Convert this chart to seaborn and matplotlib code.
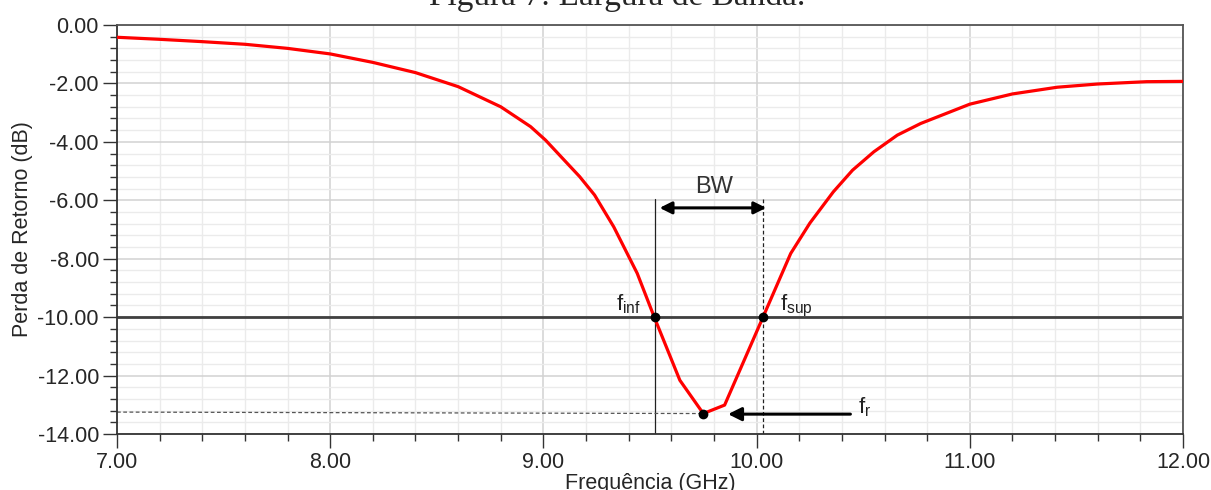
import numpy as np
import pandas as pd
import seaborn as sns
import matplotlib.pyplot as plt
from matplotlib.ticker import MultipleLocator, FormatStrFormatter

# return loss curve (GHz, dB)
freq = [7.00, 7.20, 7.40, 7.60, 7.80, 8.00, 8.20, 8.40, 8.60, 8.80, 8.94, 9.01,
        9.12, 9.17, 9.24, 9.33, 9.44, 9.52, 9.64, 9.75, 9.85, 10.03, 10.16,
        10.25, 10.36, 10.45, 10.55, 10.66, 10.77, 11.00, 11.20, 11.41, 11.60, 11.83, 12.00]
perda = [-0.42, -0.49, -0.57, -0.66, -0.80, -0.99, -1.28, -1.63, -2.11, -2.80,
         -3.48, -3.94, -4.80, -5.19, -5.82, -6.91, -8.50, -10.00, -12.16, -13.30,
         -13.01, -10.00, -7.82, -6.78, -5.71, -4.97, -4.34, -3.77, -3.37, -2.71, -2.36,
         -2.13, -2.02, -1.94, -1.93]

# markers
f_inf, f_sup = 9.523, 10.03
f_r, perda_r = 9.75, -13.30
nivel = -10.0

df = pd.DataFrame({"freq": freq, "perda": perda})

sns.set_style("white")
plt.rcParams['font.family'] = ['Liberation Sans', 'DejaVu Sans']
plt.rcParams['mathtext.default'] = 'regular'

fig = plt.figure(figsize=(12.11, 4.90), dpi=100)
ax = fig.add_axes([117/1211, 1 - 434/490, (1183 - 117)/1211, (434 - 25)/490])

# grid
ax.xaxis.set_major_locator(MultipleLocator(1))
ax.xaxis.set_minor_locator(MultipleLocator(0.2))
ax.yaxis.set_major_locator(MultipleLocator(2))
ax.yaxis.set_minor_locator(MultipleLocator(0.4))
ax.grid(which='major', color='#d2d2d2', lw=1.1, zorder=0)
ax.grid(which='minor', color='#ebebeb', lw=1.0, zorder=0)
ax.set_axisbelow(True)

# -10 dB line
ax.axhline(nivel, color='#404040', lw=2, zorder=2)

sns.lineplot(data=df, x="freq", y="perda", color='red', lw=2.3, ax=ax, zorder=3)

# bandwidth guides
ax.plot([f_inf, f_inf], [-14, -5.94], color='#222222', lw=0.9, zorder=2)
ax.plot([f_sup, f_sup], [-14, -5.94], color='#222222', lw=0.9, ls=(0, (3, 2)), zorder=2)
ax.plot([7.0, f_r], [-13.25, perda_r], color='#555555', lw=0.9, ls=(0, (3, 2)), zorder=2)

ax.annotate('', xy=(9.545, -6.26), xytext=(10.045, -6.26),
            arrowprops=dict(arrowstyle='<|-|>', color='black', lw=2.2,
                            mutation_scale=18, shrinkA=0, shrinkB=0))
ax.annotate('', xy=(9.866, -13.32), xytext=(10.44, -13.32),
            arrowprops=dict(arrowstyle='-|>', color='black', lw=2.2,
                            mutation_scale=20, shrinkA=0, shrinkB=0))

ax.plot([f_inf, f_sup, f_r], [nivel, nivel, perda_r], 'o', color='black',
        ms=6, zorder=4)

ax.text(9.80, -5.53, 'BW', ha='center', va='center', fontsize=17, color='#333333')
ax.text(9.455, -9.78, 'f$_{inf}$', ha='right', va='baseline', fontsize=16, color='#222222')
ax.text(10.11, -9.78, 'f$_{sup}$', ha='left', va='baseline', fontsize=16, color='#222222')
ax.text(10.476, -13.3, 'f$_{r}$', ha='left', va='baseline', fontsize=16, color='#222222')

ax.set_xlim(7, 12)
ax.set_ylim(-14, 0)
ax.xaxis.set_major_formatter(FormatStrFormatter('%.2f'))
ax.yaxis.set_major_formatter(FormatStrFormatter('%.2f'))
ax.tick_params(which='major', direction='out', length=10, width=1, color='#333333',
               labelsize=15.5, pad=3, left=True, bottom=True)
ax.tick_params(which='minor', direction='out', length=5, width=1, color='#333333',
               left=True, bottom=True)

for s in ax.spines.values():
    s.set_color('#555555')
    s.set_linewidth(1.3)
ax.spines['left'].set_color('#333333')
ax.spines['bottom'].set_color('#333333')

ax.set_xlabel('Frequência (GHz)', fontsize=15.5, labelpad=0)
ax.set_ylabel('Perda de Retorno (dB)', fontsize=15.5, labelpad=3)

# caption cut off at the top of the page crop
fig.text(0.51, 1 - 5/490, 'Figura 7: Largura de Banda.', ha='center', va='baseline',
         fontsize=24, family='Liberation Serif')

fig.savefig('out.png', dpi=100)
